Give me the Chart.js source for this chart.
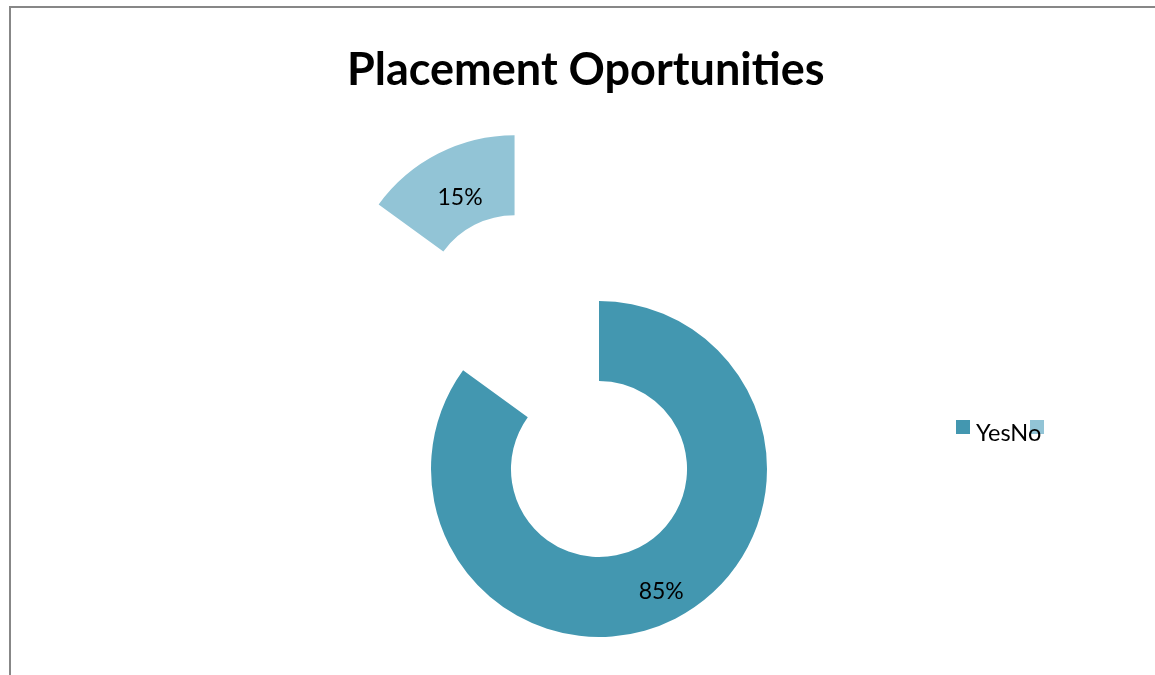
<!DOCTYPE html>
<html>
<head>
<meta charset="utf-8">
<script src="https://cdn.jsdelivr.net/npm/chart.js@4.4.1/dist/chart.umd.min.js"></script>
<style>
  html, body { margin: 0; padding: 0; background: #ffffff; overflow: hidden; }
  #wrap { position: relative; width: 1155px; height: 675px; }
  #frame {
    position: absolute; left: 9px; top: 6px; width: 1200px; height: 720px;
    border-top: 2px solid #878787; border-left: 2px solid #878787;
  }
  #chart { position: absolute; left: 0; top: 0; }
</style>
</head>
<body>
<div id="wrap">
  <div id="frame"></div>
  <canvas id="chart" width="1155" height="675"></canvas>
</div>
<script>
// Survey answers: share of respondents reporting placement opportunities
const categories = ['Yes', 'No'];
const shares = [85, 15];
const valueLabels = ['85%', '15%'];

const sliceColors = ['#4397B0', '#92C4D6'];
const explodeBy = [0, 186];        // pull-out distance per slice, px
const labelRadius = [137, 120];    // where each value label sits inside its slice

// Pulls selected slices out from the centre along their mid-angle
const explodePlugin = {
  id: 'explode',
  afterUpdate(chart) {
    const meta = chart.getDatasetMeta(0);
    meta.data.forEach((arc, i) => {
      const d = explodeBy[i] || 0;
      if (!d) return;
      const mid = (arc.startAngle + arc.endAngle) / 2;
      arc.x += Math.cos(mid) * d;
      arc.y += Math.sin(mid) * d;
    });
  }
};

// Value labels placed inside each slice
const sliceLabelPlugin = {
  id: 'sliceLabels',
  afterDatasetsDraw(chart) {
    const ctx = chart.ctx;
    const meta = chart.getDatasetMeta(0);
    ctx.save();
    ctx.font = '23px Lato, "Open Sans", sans-serif';
    ctx.fillStyle = '#000000';
    ctx.textAlign = 'center';
    ctx.textBaseline = 'middle';
    meta.data.forEach((arc, i) => {
      const mid = (arc.startAngle + arc.endAngle) / 2;
      const r = labelRadius[i];
      ctx.fillText(valueLabels[i], arc.x + Math.cos(mid) * r, arc.y + Math.sin(mid) * r + 1);
    });
    ctx.restore();
  }
};

// Legend row to the right of the ring
const legendRowPlugin = {
  id: 'legendRow',
  afterDraw(chart, args, opts) {
    const ctx = chart.ctx;
    const colors = chart.data.datasets[0].backgroundColor;
    const labels = chart.data.labels;
    ctx.save();
    labels.forEach((_, i) => {
      ctx.fillStyle = colors[i];
      ctx.fillRect(opts.x + i * opts.step, opts.y, opts.box, opts.box);
    });
    ctx.font = opts.font;
    ctx.fillStyle = '#000000';
    ctx.textAlign = 'left';
    ctx.textBaseline = 'alphabetic';
    ctx.fillText(labels.join(''), opts.x + opts.box + opts.gap, opts.baseline);
    ctx.restore();
  }
};

new Chart(document.getElementById('chart'), {
  type: 'doughnut',
  data: {
    labels: categories,
    datasets: [{
      data: shares,
      backgroundColor: sliceColors,
      borderWidth: 0,
      hoverOffset: 0,
      clip: false
    }]
  },
  options: {
    responsive: false,
    animation: false,
    radius: 168,
    cutout: '52.4%',
    layout: { padding: { left: 347, right: 304, top: 0, bottom: 30 } },
    plugins: {
      legend: { display: false },
      tooltip: { enabled: false },
      title: {
        display: true,
        text: 'Placement Oportunities',
        align: 'start',
        color: '#000000',
        font: { family: 'Lato, "Open Sans", sans-serif', size: 45, weight: 'bold', lineHeight: 1 },
        padding: { top: 48, bottom: 200 }
      },
      legendRow: {
        x: 956, y: 420, box: 14, step: 74, gap: 6, baseline: 441,
        font: '23.5px Lato, "Open Sans", sans-serif'
      }
    }
  },
  plugins: [explodePlugin, sliceLabelPlugin, legendRowPlugin]
});
</script>
</body>
</html>
